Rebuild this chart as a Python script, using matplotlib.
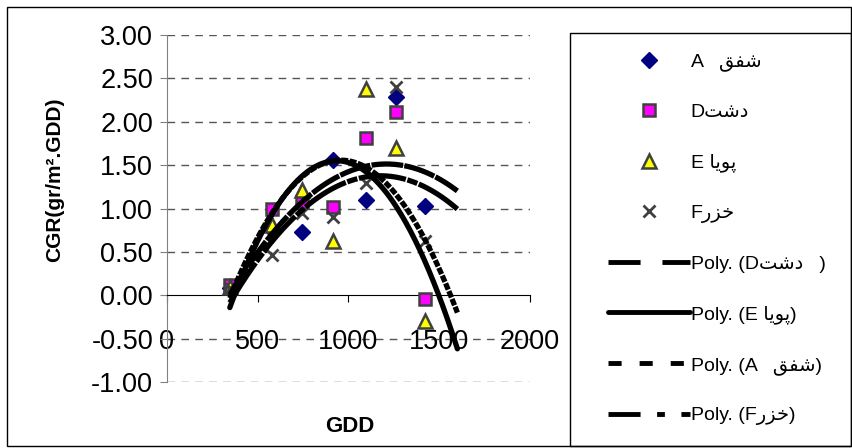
import matplotlib
matplotlib.use("Agg")
import matplotlib.pyplot as plt
from matplotlib.lines import Line2D
from matplotlib.patches import Rectangle
import numpy as np

plt.rcParams['font.family'] = ['Liberation Sans', 'DejaVu Sans']
plt.rcParams['axes.unicode_minus'] = False

# GDD sampling points and CGR per cultivar
gdd = [346, 577, 742, 912, 1099, 1264, 1423]
cgr_a = [0.08, 0.75, 0.73, 1.56, 1.10, 2.28, 1.03]
cgr_d = [0.12, 0.99, 1.07, 1.02, 1.81, 2.11, -0.04]
cgr_e = [0.10, 0.81, 1.21, 0.62, 2.38, 1.70, -0.30]
cgr_f = [0.08, 0.46, 0.95, 0.90, 1.29, 2.40, 0.63]
trend_end = 1600

# cultivar names, Arabic script in presentation forms (visual order)
shafagh = "\uFED6\uFED4\uFEB7"
dasht = "\uFE96\uFEB7\uFEA9"
pouya = "\uFE8E\uFBFE\uFEEE\uFB58"
khazar = "\uFEAD\uFEB0\uFEA7"

lab_a = "A   " + shafagh
lab_d = "D" + dasht
lab_e = "E " + pouya
lab_f = "F" + khazar
lab_pd = "Poly. (D" + dasht + "   )"
lab_pe = "Poly. (E " + pouya + ")"
lab_pa = "Poly. (A   " + shafagh + ")"
lab_pf = "Poly. (F" + khazar + ")"

yticks = [-1.0, -0.5, 0.0, 0.5, 1.0, 1.5, 2.0, 2.5, 3.0]
ytick_labels = ["-1.00", "-0.50", "0.00", "0.50", "1.00", "1.50", "2.00", "2.50", "3.00"]
xticks = [0, 500, 1000, 1500, 2000]

W, H = 853, 448
fig = plt.figure(figsize=(W / 100, H / 100), dpi=100)
ax = fig.add_axes([167 / W, 1 - 382 / H, (530 - 167) / W, (382 - 35) / H])
ax.set_xlim(0, 2000)
ax.set_ylim(-1, 3)

ax.spines['top'].set_visible(False)
ax.spines['right'].set_visible(False)
ax.spines['bottom'].set_position(('data', 0))
ax.spines['bottom'].set_color('black')
ax.spines['left'].set_color('#808080')

ax.set_yticks(yticks)
ax.set_yticklabels(ytick_labels)
ax.set_xticks(xticks)
ax.set_xticklabels([str(v) for v in xticks])
ax.tick_params(axis='y', direction='out', length=5, pad=5, labelsize=19.5, color='#808080')
ax.tick_params(axis='x', direction='out', length=5, pad=19, labelsize=19.5, color='black')

for y in yticks:
    if y != 0:
        ax.axhline(y, color='#555555', lw=1, ls=(0, (5.5, 4.5)), zorder=0)

mk = dict(ls='none', zorder=3)
ax.plot(gdd, cgr_a, marker='D', ms=8.5, mfc='#000080', mec='#000080', **mk)
ax.plot(gdd, cgr_d, marker='s', ms=9, mfc='#FF00FF', mec='#404040', mew=1.8, **mk)
ax.plot(gdd, cgr_e, marker='^', ms=10, mfc='#FFFF00', mec='#404040', mew=1.8, **mk)
ax.plot(gdd, cgr_f, marker='x', ms=9, mec='#404040', mew=2, **mk)

# legend dash patterns; on the curves themselves the dashes nearly close up
styles = {
    'd': (0, (6.6, 4.5)),
    'e': '-',
    'a': (0, (2.7, 3.7)),
    'f': (0, (6.6, 3.4, 1.6, 3.4)),
}
curve_styles = {
    'd': (0, (1.3, 0.3)),
    'e': '-',
    'a': (0, (6, 0.25)),
    'f': (0, (9, 0.3, 2, 0.3)),
}
xs = np.linspace(gdd[0], trend_end, 200)
for key, vals in (('d', cgr_d), ('e', cgr_e), ('a', cgr_a), ('f', cgr_f)):
    c = np.polyfit(gdd, vals, 2)
    ax.plot(xs, np.polyval(c, xs), color='black', lw=3.8, ls=curve_styles[key],
            zorder=4, solid_capstyle='round')

handles = [
    Line2D([], [], ls='none', marker='D', ms=8.5, mfc='#000080', mec='#000080'),
    Line2D([], [], ls='none', marker='s', ms=9, mfc='#FF00FF', mec='#404040', mew=1.8),
    Line2D([], [], ls='none', marker='^', ms=10, mfc='#FFFF00', mec='#404040', mew=1.8),
    Line2D([], [], ls='none', marker='x', ms=9, mec='#404040', mew=2),
    Line2D([], [], color='black', lw=3.5, ls=styles['d']),
    Line2D([], [], color='black', lw=3.5, ls=styles['e'], solid_capstyle='round'),
    Line2D([], [], color='black', lw=3.5, ls=styles['a']),
    Line2D([], [], color='black', lw=3.5, ls=styles['f']),
]
labels = [lab_a, lab_d, lab_e, lab_f, lab_pd, lab_pe, lab_pa, lab_pf]
fig.legend(handles, labels, loc='upper left', bbox_to_anchor=(608 / W, 1 - 53 / H),
           frameon=False, borderpad=0, borderaxespad=0, fontsize=14,
           handlelength=4.2, handletextpad=0.05, labelspacing=1.66)

fig.patches.append(Rectangle((570 / W, 2 / H), (851 - 570) / W, (446 - 33) / H,
                             transform=fig.transFigure, fill=False, ec='black', lw=1))
fig.patches.append(Rectangle((7 / W, 2 / H), (851 - 7) / W, (446 - 7) / H,
                             transform=fig.transFigure, fill=False, ec='black', lw=1))

fig.text(55 / W, 1 - 180 / H, "CGR(gr/m\u00b2.GDD)", rotation=90, ha='center', va='center',
         fontsize=15, fontweight='bold')
fig.text(350 / W, 1 - 426 / H, "GDD", ha='center', va='center', fontsize=16, fontweight='bold')

fig.savefig("out.png", dpi=100)
